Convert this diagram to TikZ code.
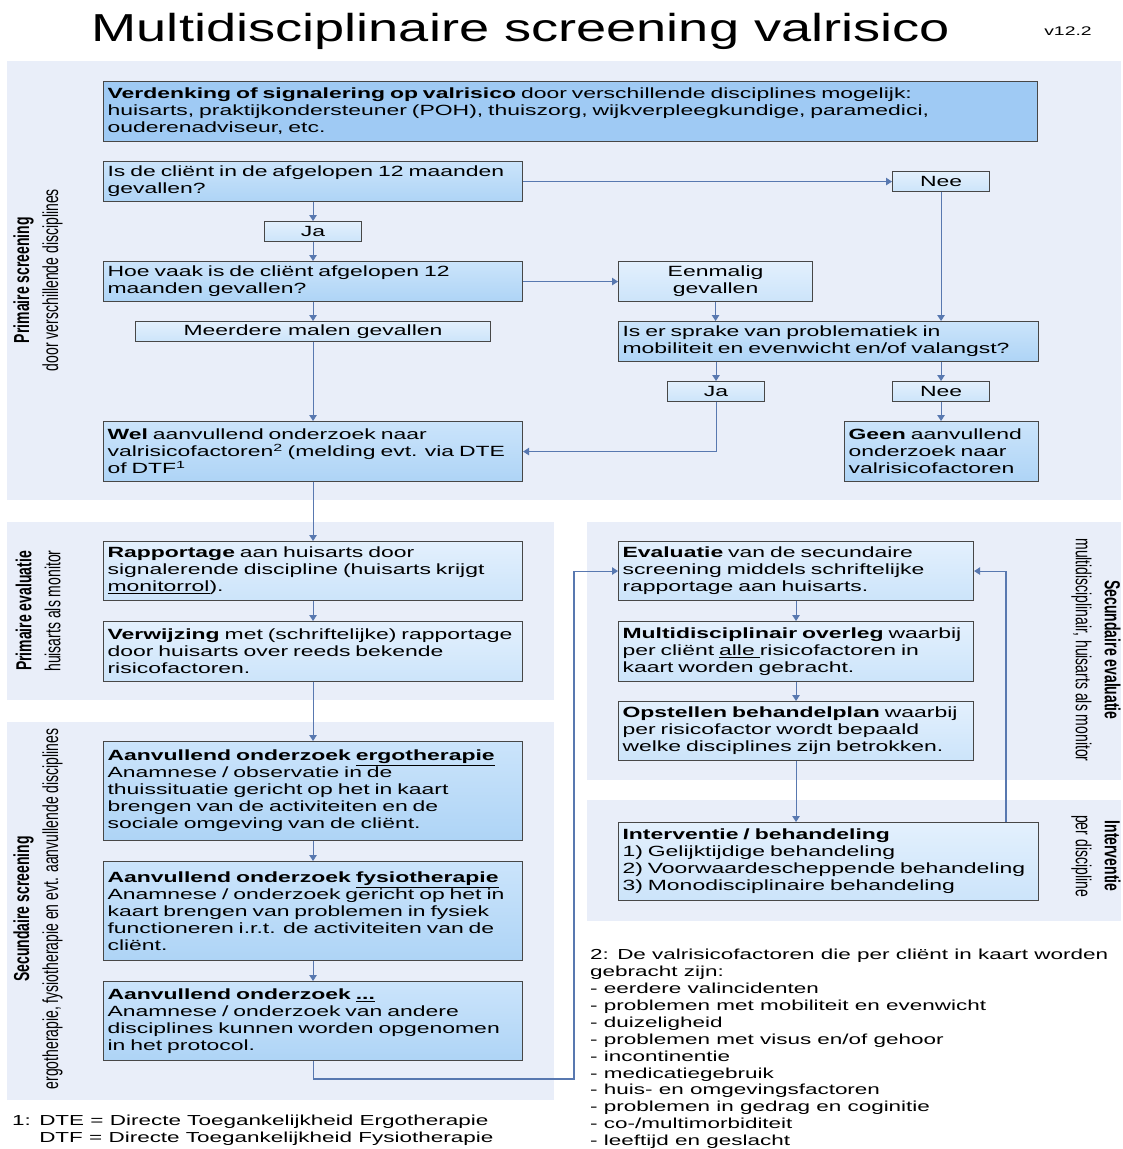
\documentclass[tikz,border=0pt]{standalone}
\usepackage{fontspec}
\setmainfont{Liberation Sans}[FakeStretch=1.55]
\newfontfamily\titlefont{Liberation Sans}[FakeStretch=1.39]
\newfontfamily\rotfont{Liberation Sans}[FakeStretch=0.645]
\usetikzlibrary{arrows.meta}
\definecolor{panelc}{HTML}{E9EEF9}
\definecolor{boxA}{HTML}{9FCAF4}
\definecolor{midT}{HTML}{CBE4FB}
\definecolor{midB}{HTML}{AED4F6}
\definecolor{lightT}{HTML}{E3F0FD}
\definecolor{lightB}{HTML}{CCE4FA}
\definecolor{edgec}{HTML}{474747}
\definecolor{arrowc}{HTML}{5878B0}
\tikzset{
  bx/.style={draw=edgec, line width=1.1pt, anchor=north west, inner xsep=4pt, inner ysep=0pt,
    align=left, font=\fontsize{14.8}{17}\selectfont,
    execute at begin node={\hyphenpenalty=10000\relax}},
  cbx/.style={bx, align=center},
  darkf/.style={fill=boxA},
  midf/.style={top color=midT, bottom color=midB},
  lightf/.style={top color=lightT, bottom color=lightB},
  conn/.style={draw=arrowc, line width=1.1pt, -{Triangle[length=6pt,width=7.5pt]}},
  panel/.style={fill=panelc, draw=none},
  side/.style={font=\rotfont\fontsize{21.7}{29}\selectfont, align=center, inner sep=0pt},
  note/.style={font=\fontsize{14.5}{16.9}\selectfont, align=left, inner sep=0pt, anchor=north west},
}
\begin{document}
\begin{tikzpicture}[x=1pt,y=-1pt]
\useasboundingbox (0,0) rectangle (1123,1149);
% panels
\fill[panel] (7,61) rectangle (1121,500);
\fill[panel] (7,522) rectangle (554,700);
\fill[panel] (7,722) rectangle (554,1100);
\fill[panel] (587,522) rectangle (1121,780);
\fill[panel] (587,800) rectangle (1121,921);
% title
\node[anchor=base, inner sep=0pt, font=\titlefont\fontsize{39}{44}\selectfont] (title) at (521,41) {Multidisciplinaire screening valrisico};
\node[anchor=base, inner sep=0pt, font=\fontsize{12.5}{14}\selectfont] (version) at (1068,35) {v12.2};
% side labels
\node[side, rotate=90] (L1) at (38,280) {\textbf{Primaire screening}\\door verschillende disciplines};
\node[side, rotate=90] (L2) at (38,611) {\textbf{Primaire evaluatie}\\huisarts als monitor};
\node[side, rotate=90] (L3) at (38,909) {\textbf{Secundaire screening}\\ergotherapie, fysiotherapie en evt. aanvullende disciplines};
\node[side, rotate=-90] (R1) at (1096,650) {\textbf{Secundaire evaluatie}\\multidisciplinair, huisarts als monitor};
\node[side, rotate=-90] (R2) at (1096,856) {\textbf{Interventie}\\per discipline};
% boxes
\node[bx, darkf, minimum width=934pt, text width=926pt, minimum height=60pt] (b1) at (103,81)
  {\textbf{Verdenking of signalering op valrisico} door verschillende disciplines mogelijk:\\huisarts, praktijkondersteuner (POH), thuiszorg, wijkverpleegkundige, paramedici,\\ouderenadviseur, etc.};
\node[bx, midf, minimum width=419pt, text width=411pt, minimum height=40pt] (q1) at (103,161)
  {Is de cliënt in de afgelopen 12 maanden\\gevallen?};
\node[cbx, lightf, minimum width=97pt, minimum height=20pt] (ja1) at (264,221) {Ja};
\node[bx, midf, minimum width=419pt, text width=411pt, minimum height=40pt] (q2) at (103,261)
  {Hoe vaak is de cliënt afgelopen 12\\maanden gevallen?};
\node[cbx, lightf, minimum width=355pt, minimum height=20pt] (meer) at (135,321) {Meerdere malen gevallen};
\node[bx, midf, minimum width=419pt, text width=411pt, minimum height=60pt] (wel) at (103,421)
  {\textbf{Wel} aanvullend onderzoek naar\\valrisicofactoren\textsuperscript{2} (melding evt. via DTE\\of DTF\textsuperscript{1}};
\node[cbx, lightf, minimum width=97pt, minimum height=20pt] (nee1) at (892,171) {Nee};
\node[cbx, lightf, minimum width=194pt, minimum height=40pt] (een) at (618,261) {Eenmalig\\gevallen};
\node[bx, midf, minimum width=420pt, text width=412pt, minimum height=40pt] (iser) at (618,321)
  {Is er sprake van problematiek in\\mobiliteit en evenwicht en/of valangst?};
\node[cbx, lightf, minimum width=97pt, minimum height=20pt] (ja2) at (667,381) {Ja};
\node[cbx, lightf, minimum width=97pt, minimum height=20pt] (nee2) at (892,381) {Nee};
\node[bx, midf, minimum width=194pt, text width=186pt, minimum height=60pt] (geen) at (844,421)
  {\textbf{Geen} aanvullend\\onderzoek naar\\valrisicofactoren};
\node[bx, lightf, minimum width=419pt, text width=411pt, minimum height=59pt] (rap) at (103,541)
  {\textbf{Rapportage} aan huisarts door\\signalerende discipline (huisarts krijgt\\\underline{monitorrol}).};
\node[bx, lightf, minimum width=419pt, text width=411pt, minimum height=60pt] (verw) at (103,621)
  {\textbf{Verwijzing} met (schriftelijke) rapportage\\door huisarts over reeds bekende\\risicofactoren.};
\node[bx, midf, minimum width=419pt, text width=411pt, minimum height=99pt] (ergo) at (103,741)
  {\textbf{Aanvullend onderzoek \underline{ergotherapie}}\\Anamnese / observatie in de\\thuissituatie gericht op het in kaart\\brengen van de activiteiten en de\\sociale omgeving van de cliënt.};
\node[bx, midf, minimum width=419pt, text width=411pt, minimum height=99pt] (fys) at (103,861)
  {\textbf{Aanvullend onderzoek \underline{fysiotherapie}}\\Anamnese / onderzoek gericht op het in\\kaart brengen van problemen in fysiek\\functioneren i.r.t. de activiteiten van de\\cliënt.};
\node[bx, midf, minimum width=419pt, text width=411pt, minimum height=79pt] (andr) at (103,981)
  {\textbf{Aanvullend onderzoek \underline{...}}\\Anamnese / onderzoek van andere\\disciplines kunnen worden opgenomen\\in het protocol.};
\node[bx, lightf, minimum width=355pt, text width=347pt, minimum height=59pt] (eval) at (618,541)
  {\textbf{Evaluatie} van de secundaire\\screening middels schriftelijke\\rapportage aan huisarts.};
\node[bx, lightf, minimum width=355pt, text width=347pt, minimum height=60pt] (multi) at (618,621)
  {\textbf{Multidisciplinair overleg} waarbij\\per cliënt \underline{alle\ }risicofactoren in\\kaart worden gebracht.};
\node[bx, lightf, minimum width=355pt, text width=347pt, minimum height=59pt] (opst) at (618,701)
  {\textbf{Opstellen behandelplan} waarbij\\per risicofactor wordt bepaald\\welke disciplines zijn betrokken.};
\node[bx, lightf, minimum width=420pt, text width=412pt, minimum height=78pt] (interv) at (618,822)
  {\textbf{Interventie / behandeling}\\1) Gelijktijdige behandeling\\2) Voorwaardescheppende behandeling\\3) Monodisciplinaire behandeling};
% footnotes
\node[note] (fn1) at (12,1115) {1: DTE = Directe Toegankelijkheid Ergotherapie\\\phantom{1: }DTF = Directe Toegankelijkheid Fysiotherapie};
\node[note] (fn2) at (590,949) {2: De valrisicofactoren die per cliënt in kaart worden\\gebracht zijn:\\- eerdere valincidenten\\- problemen met mobiliteit en evenwicht\\- duizeligheid\\- problemen met visus en/of gehoor\\- incontinentie\\- medicatiegebruik\\- huis- en omgevingsfactoren\\- problemen in gedrag en coginitie\\- co-/multimorbiditeit\\- leeftijd en geslacht};
% helper coordinates
\coordinate (loopL) at (574,1079);
\coordinate (loopR) at (1006,822);
% connectors
\draw[conn] (q1.south) -- (ja1.north);
\draw[conn] (ja1.south) -- (q2.north);
\draw[conn] (q2.south) -- (meer.north);
\draw[conn] (meer.south) -- (wel.north);
\draw[conn] (q1.east) -- (nee1.west);
\draw[conn] (q2.east) -- (een.west);
\draw[conn] (nee1.south) -- (nee1.south |- iser.north);
\draw[conn] (een.south) -- (een.south |- iser.north);
\draw[conn] (ja2.north |- iser.south) -- (ja2.north);
\draw[conn] (nee2.north |- iser.south) -- (nee2.north);
\draw[conn] (nee2.south) -- (nee2.south |- geen.north);
\draw[conn] (ja2.south) |- (wel.east);
\draw[conn] (wel.south) -- (rap.north);
\draw[conn] (rap.south) -- (verw.north);
\draw[conn] (verw.south) -- (ergo.north);
\draw[conn] (ergo.south) -- (fys.north);
\draw[conn] (fys.south) -- (andr.north);
\draw[conn] (andr.south) |- (loopL) |- (eval.west);
\draw[conn] (eval.south) -- (multi.north);
\draw[conn] (multi.south) -- (opst.north);
\draw[conn] (opst.south) -- (opst.south |- interv.north);
\draw[conn] (loopR) |- (eval.east);
\end{tikzpicture}
\end{document}
